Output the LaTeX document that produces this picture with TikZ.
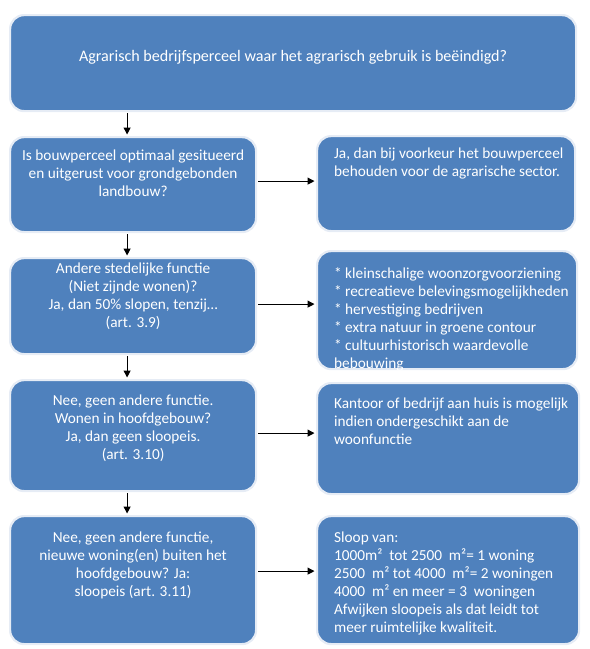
\documentclass[tikz,border=0pt]{standalone}
\usepackage{fontspec}
\setmainfont{Carlito}
\usetikzlibrary{arrows.meta}
\definecolor{boxblue}{HTML}{4F81BD}
\definecolor{boxrim}{HTML}{E6ECF5}
\begin{document}
\begin{tikzpicture}[x=1pt,y=-1pt,
  box/.style={fill=boxblue, draw=boxrim, line width=2.2pt, rounded corners=14pt,
    inner sep=0pt, text=white, font=\fontsize{15.3}{18}\selectfont},
  arr/.style={line width=1.1pt, -{Triangle[length=7pt,width=7pt]}, shorten >=1.5pt, shorten <=1pt}]
\useasboundingbox (0,0) rectangle (590,649);
% top
\node[box, anchor=north west, font=\fontsize{16.1}{19.3}\selectfont] (top) at (9,14)
  {\parbox[t][96pt][t]{566pt}{\vspace*{32.5pt}\centering\strut Agrarisch bedrijfsperceel waar het agrarisch gebruik is beëindigd?}};
% left column
\node[box, anchor=north west] (b2) at (9,136)
  {\parbox[t][95pt][t]{246pt}{\vspace*{10.9pt}\centering\strut Is bouwperceel optimaal gesitueerd\\ en uitgerust voor grondgebonden\\ landbouw?}};
\node[box, anchor=north west] (b3) at (9,257)
  {\parbox[t][96pt][t]{246pt}{\vspace*{2.9pt}\centering\strut Andere stedelijke functie\\ (Niet zijnde wonen)?\\ Ja, dan 50\% slopen, tenzij…\\ (art. 3.9)}};
\node[box, anchor=north west] (b4) at (9,379)
  {\parbox[t][111pt][t]{246pt}{\vspace*{12.9pt}\centering\strut Nee, geen andere functie.\\ Wonen in hoofdgebouw?\\ Ja, dan geen sloopeis.\\ (art. 3.10)}};
\node[box, anchor=north west] (b5) at (9,515)
  {\parbox[t][128pt][t]{246pt}{\vspace*{13.9pt}\centering\strut Nee, geen andere functie,\\ nieuwe woning(en) buiten het\\ hoofdgebouw? Ja:\\ sloopeis (art. 3.11)}};
% right column
\node[box, anchor=north west] (r1) at (316,135)
  {\parbox[t][95pt][t]{258pt}{\vspace*{9.9pt}\raggedright\leftskip=17pt\strut Ja, dan bij voorkeur het bouwperceel\\ behouden voor de agrarische sector.}};
\node[box, anchor=north west] (r2) at (316,250)
  {\parbox[t][118pt][t]{260pt}{\vspace*{14.4pt}\raggedright\leftskip=17pt\strut {*} kleinschalige woonzorgvoorziening\\{*} recreatieve belevingsmogelijkheden\\{*} hervestiging bedrijven\\{*} extra natuur in groene contour\\{*} cultuurhistorisch waardevolle\\{}bebouwing}};
\node[box, anchor=north west] (r3) at (316,382)
  {\parbox[t][111pt][t]{262pt}{\vspace*{12.9pt}\raggedright\leftskip=17pt\strut Kantoor of bedrijf aan huis is mogelijk\\ indien ondergeschikt aan de\\ woonfunctie}};
\node[box, anchor=north west] (r4) at (316,515)
  {\parbox[t][128pt][t]{262pt}{\vspace*{13.9pt}\raggedright\leftskip=17pt\strut Sloop van:\\ 1000m²~~tot 2500~~m²= 1 woning\\ 2500~~m² tot 4000~~m²= 2 woningen\\ 4000~~m² en meer = 3~~woningen\\ Afwijken sloopeis als dat leidt tot\\ meer ruimtelijke kwaliteit.}};
% vertical arrows
\draw[arr] ([xshift=-6pt]top.south -| b2.north) -- ([xshift=-6pt]b2.north);
\draw[arr] ([xshift=-6pt]b2.south) -- ([xshift=-6pt]b3.north);
\draw[arr] ([xshift=-6pt]b3.south) -- ([xshift=-6pt]b4.north);
\draw[arr] ([xshift=-6pt]b4.south) -- ([xshift=-6pt]b5.north);
% horizontal arrows
\draw[arr] ([yshift=3.5pt]b2.east) -- ([yshift=3.5pt]b2.east -| r1.west);
\draw[arr] ([yshift=2pt]b3.east) -- ([yshift=2pt]b3.east -| r2.west);
\draw[arr] ([yshift=2.5pt]b4.east) -- ([yshift=2.5pt]b4.east -| r3.west);
\draw[arr] ([yshift=9pt]b5.east) -- ([yshift=9pt]b5.east -| r4.west);
\end{tikzpicture}
\end{document}
